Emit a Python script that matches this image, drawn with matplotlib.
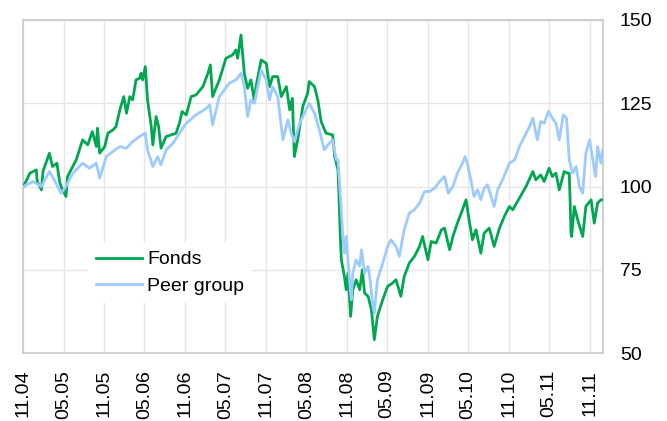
# Fonds vs peer group, indexed to 100
import pandas as pd,numpy as np
import matplotlib;matplotlib.use('Agg');import matplotlib.pyplot as plt
import matplotlib.dates as mdates
plt.rcParams['font.family']=['Liberation Sans','DejaVu Sans']

fonds_dates=['2004-11-01','2004-11-30','2004-12-29','2005-01-02','2005-01-21','2005-01-28','2005-02-26','2005-03-12',
'2005-04-01','2005-04-13','2005-04-20','2005-05-12','2005-05-19','2005-06-27','2005-07-26','2005-08-18','2005-09-08',
'2005-09-26','2005-10-01','2005-10-11','2005-11-03','2005-11-17','2005-12-10','2005-12-24','2006-01-10','2006-01-28',
'2006-02-09','2006-02-24','2006-03-09','2006-03-24','2006-04-09','2006-04-16','2006-04-23','2006-05-05','2006-05-15',
'2006-06-01','2006-06-08','2006-06-23','2006-07-04','2006-07-15','2006-08-07','2006-09-21','2006-10-06','2006-10-18',
'2006-11-06','2006-11-28','2006-12-20','2007-01-20','2007-02-12','2007-02-23','2007-03-05','2007-04-04','2007-05-04',
'2007-06-03','2007-06-18','2007-06-26','2007-07-11','2007-07-26','2007-08-10','2007-08-25','2007-09-10','2007-09-17',
'2007-10-10','2007-11-02','2007-11-17','2007-12-01','2007-12-24','2008-01-09','2008-02-01','2008-02-16','2008-02-28',
'2008-03-08','2008-03-23','2008-04-15','2008-05-07','2008-05-14','2008-06-07','2008-06-22','2008-07-07','2008-07-29',
'2008-08-28','2008-09-06','2008-09-21','2008-09-26','2008-10-01','2008-10-06','2008-10-20','2008-10-28','2008-11-05',
'2008-11-17','2008-11-27','2008-12-12','2008-12-28','2009-01-09','2009-01-19','2009-02-04','2009-02-19','2009-03-04',
'2009-03-18','2009-04-11','2009-05-03','2009-05-25','2009-06-10','2009-07-02','2009-07-17','2009-08-09','2009-09-01',
'2009-09-24','2009-10-08','2009-11-01','2009-11-16','2009-12-08','2010-01-01','2010-01-15','2010-02-07','2010-02-22',
'2010-03-14','2010-04-06','2010-04-22','2010-05-06','2010-05-21','2010-06-06','2010-06-28','2010-07-13','2010-08-05',
'2010-08-27','2010-09-20','2010-10-12','2010-11-04','2010-11-19','2010-12-19','2011-01-18','2011-02-18','2011-03-03',
'2011-03-25','2011-04-10','2011-05-02','2011-05-17','2011-06-02','2011-06-17','2011-07-09','2011-07-24','2011-08-01',
'2011-08-05','2011-08-09','2011-08-12','2011-08-24','2011-09-08','2011-10-01','2011-10-15','2011-11-08','2011-11-22',
'2011-12-07','2011-12-22','2011-12-30']
fonds_vals=[100,104,105,101.5,99,104.5,110,106,107,101.5,100,97,103,108,114,112.5,116.5,112,117.5,110,112,116,117,118,
123,127,122,127,126,132,132.5,134,132,136,126,118,112.5,121,118,111.5,115,116,119,122.5,121.5,127,127.5,130,134,136.5,
127,132,138.5,139.5,141,138.5,145.5,134,129.5,132,125.5,130,138,137,130,133,133,127,130,123,126.5,109,114,124,128,131.5,
130,126,119.5,116,115.5,109,105,96,86,78,73,69,74,61,69,72,69,75,68,67,63,54,61,66,70,71,72,67,73,77,79,82,85,78,83.5,
83,87,87.5,81,85,89,93,96,90,84,87,80,86,87.5,82,87.5,91,94,93,96.5,100,104.5,102,103.5,101.5,105.5,103,104,99,104.5,
104,104,96,86,85,94,90,85,94,96,89,95,96,96]

peer_dates=['2004-11-01','2004-12-14','2005-01-21','2005-02-26','2005-03-20','2005-04-20','2005-05-12','2005-06-12',
'2005-07-26','2005-08-26','2005-09-26','2005-10-11','2005-11-10','2005-12-10','2006-01-10','2006-02-09','2006-03-09',
'2006-04-09','2006-05-05','2006-05-15','2006-06-08','2006-06-30','2006-07-15','2006-08-07','2006-09-07','2006-10-06',
'2006-11-06','2006-12-20','2007-02-05','2007-02-20','2007-03-05','2007-04-04','2007-05-19','2007-06-18','2007-07-11',
'2007-07-26','2007-08-10','2007-08-25','2007-09-10','2007-10-10','2007-11-02','2007-11-17','2007-12-01','2007-12-24',
'2008-01-16','2008-02-08','2008-02-23','2008-03-08','2008-04-01','2008-04-30','2008-05-14','2008-06-07','2008-06-29',
'2008-07-21','2008-08-13','2008-08-28','2008-09-13','2008-09-21','2008-09-29','2008-10-03','2008-10-13','2008-10-20',
'2008-10-28','2008-11-13','2008-11-20','2008-11-27','2008-12-12','2008-12-28','2009-01-05','2009-01-19','2009-02-04',
'2009-02-11','2009-02-26','2009-03-04','2009-03-18','2009-04-11','2009-05-03','2009-05-18','2009-06-10','2009-06-25',
'2009-07-17','2009-08-09','2009-09-01','2009-09-24','2009-10-17','2009-11-09','2009-12-01','2009-12-24','2010-01-15',
'2010-02-01','2010-02-22','2010-03-14','2010-04-06','2010-04-18','2010-04-28','2010-05-14','2010-05-28','2010-06-13',
'2010-06-28','2010-07-13','2010-07-28','2010-08-13','2010-08-27','2010-09-12','2010-10-04','2010-11-04','2010-11-28',
'2010-12-19','2011-01-11','2011-02-03','2011-02-18','2011-03-10','2011-03-25','2011-04-10','2011-04-29','2011-05-17',
'2011-06-02','2011-06-17','2011-07-05','2011-07-20','2011-08-01','2011-08-16','2011-09-01','2011-09-16','2011-10-01',
'2011-10-15','2011-11-01','2011-11-16','2011-11-28','2011-12-07','2011-12-22','2011-12-30']
peer_vals=[100,101.5,100,104.5,102,98,100,104,107,105.5,107,102.5,109,110.5,112,111.5,113.5,115,116,111,106,109,106.5,
111,113,116,119,121.5,123.5,124.5,118.5,127,131,132,134,130,121,126,125,135,132,126,130,127,114,120,116,113.5,119,123,
125,122,117,111,113,114,108,108,100,96,85,80,85,71,66,74,78,76,81,74,76,73,64,62,72,77,82,84,82,79,87,92,93,95,98.5,
98.5,99.5,101.5,103,98,100,104,107,109,107,102,97,99,96,99.5,100.5,97,94,99,102,107,108,112,115,118,120.5,114,119.5,
119,122.5,120.5,119,114,121.5,120.5,108,104,106,100,98,110,114,108,103,112,107,111]

yticks=[50,75,100,125,150]

fig=plt.figure(figsize=(6.67,4.21),dpi=100)
ax=fig.add_axes([0.0352,0.1615,0.869,0.791])
ax.plot(pd.to_datetime(fonds_dates),fonds_vals,color='#00A650',lw=2.0,label='Fonds',zorder=3)
ax.plot(pd.to_datetime(peer_dates),peer_vals,color='#9DCBFF',lw=2.0,label='Peer group',zorder=4)

ax.set_xlim(pd.Timestamp('2004-11-01'),pd.Timestamp('2012-01-01'))
ax.set_ylim(50,150);ax.set_yticks(yticks)
ax.xaxis.set_major_locator(mdates.MonthLocator(bymonth=[5,11]))
ax.xaxis.set_major_formatter(mdates.DateFormatter('%m.%y'))
ax.yaxis.tick_right()
ax.tick_params(axis='x',rotation=90,length=0,pad=12,labelsize=14)
ax.tick_params(axis='y',length=0,pad=12,labelsize=14)
ax.grid(True,color='#e6e6e6',lw=1)
ax.set_axisbelow(True)
for s in ax.spines.values():s.set_color('#c8c8c8');s.set_linewidth(1.2)

leg=ax.legend(loc='upper left',bbox_to_anchor=(88/667,1-243/421),bbox_transform=fig.transFigure,
    frameon=True,fancybox=False,edgecolor='none',facecolor='white',framealpha=1,fontsize=14,
    handlelength=2.4,handletextpad=0.25,labelspacing=0.45,borderaxespad=0,borderpad=0.4)
leg.set_zorder(5)
fig.savefig('out.png',dpi=100)
